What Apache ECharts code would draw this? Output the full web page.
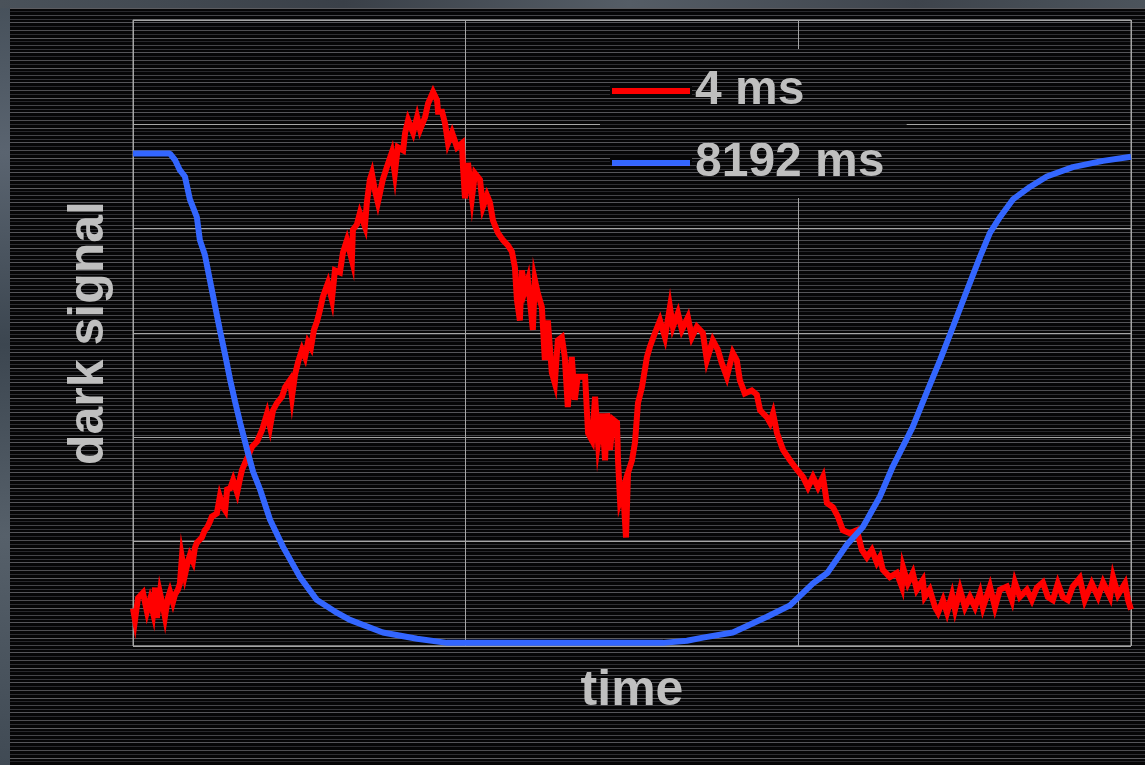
<!DOCTYPE html>
<html>
<head>
<meta charset="utf-8">
<title>dark signal vs time</title>
<script src="https://cdn.jsdelivr.net/npm/echarts@6/dist/echarts.min.js"></script>
<style>
  html, body { margin: 0; padding: 0; background: #060607; }
  #wrap { position: relative; width: 1145px; height: 765px; overflow: hidden; background-color: #060607; }
  #edgeLeft { position: absolute; left: 0; top: 0; width: 10px; height: 765px;
    background: linear-gradient(180deg, #46505a 0%, #5a6470 20%, #3c4650 45%, #56606a 70%, #404a54 100%); }
  #edgeTop { position: absolute; left: 0; top: 0; width: 1145px; height: 8px;
    background: linear-gradient(90deg, #4a525a 0%, #3a4048 30%, #555d66 55%, #3e444c 80%, #4c545c 100%); }
  #chart { position: absolute; left: 0; top: 0; width: 1145px; height: 765px; }
  /* scan lines laid over the legend box (the box itself is opaque so the grid stays hidden) */
  #legendLines { position: absolute; left: 595px; top: 45px; width: 330px; height: 155px;
    pointer-events: none; mix-blend-mode: lighten; background-position: -595px -45px;
    clip-path: path(evenodd, "M0 0 H330 V155 H0 Z M15 40 H97 V50 H15 Z M15 110 H97 V120 H15 Z"); }
</style>
</head>
<body>
<div id="wrap">
  <div id="edgeLeft"></div>
  <div id="edgeTop"></div>
  <div id="chart"></div>
  <div id="legendLines"></div>
</div>
<script>
// Axis ranges (time in arbitrary units, dark signal in arbitrary units)
const timeRange = [0, 300];
const timeStep = 100;
const signalRange = [0, 6];
const signalStep = 1;

const seriesNames = ['4 ms', '8192 ms'];

// 4 ms exposure: noisy dark signal
const redTime = [
  0, 0.6, 1.5, 3.0, 4.2, 5.1, 6.0, 6.6, 7.2, 8.1, 9.0, 9.6, 10.5, 11.1, 12.0, 12.6, 13.5, 14.1, 14.7, 15.6,
  16.5, 17.1, 18.0, 18.6, 19.2, 20.7, 21.6, 22.2, 23.1, 23.7, 25.2, 26.1, 27.1, 27.7, 28.3, 29.2, 30.1, 31.3, 32.2, 32.8,
  34.3, 35.8, 37.3, 38.8, 40.3, 41.2, 42.1, 43.3, 44.8, 45.7, 47.2, 47.8, 48.7, 49.6, 50.8, 51.7, 52.6, 53.5, 54.4, 55.3,
  56.2, 57.1, 58.6, 59.8, 60.7, 62.2, 63.1, 64.3, 65.8, 66.1, 67.3, 68.2, 69.7, 70.3, 71.2, 71.8, 72.7, 73.6, 75.1, 76.3,
  77.8, 78.7, 79.6, 81.2, 81.8, 82.7, 84.2, 85.4, 86.3, 87.8, 88.7, 90.2, 91.4, 91.7, 92.9, 93.8, 94.7, 95.9, 97.4, 98.9,
  99.2, 99.8, 100.7, 101.9, 102.8, 104.3, 105.2, 106.4, 107.3, 108.2, 109.7, 111.2, 112.7, 113.9, 114.8, 115.4, 116.3, 116.9, 117.8, 118.7,
  120.2, 120.8, 121.7, 122.9, 123.8, 124.7, 125.9, 126.8, 127.7, 128.9, 129.8, 130.7, 131.9, 132.8, 133.7, 135.9, 136.8, 138.0, 138.9, 139.8,
  141.0, 141.9, 142.5, 143.4, 144.3, 145.5, 145.8, 146.4, 147.3, 148.2, 148.8, 150.0, 150.9, 151.8, 153.0, 154.5, 155.4, 156.9, 158.4, 159.9,
  161.4, 162.3, 163.8, 165.0, 166.8, 168.0, 169.5, 171.3, 172.5, 174.3, 175.8, 177.0, 178.5, 180.3, 181.5, 182.4, 183.9, 186.0, 187.5, 188.5,
  190.6, 191.5, 192.4, 193.6, 195.4, 197.5, 199.6, 201.4, 202.9, 204.4, 205.9, 207.4, 208.6, 210.4, 211.9, 213.4, 215.5, 217.6, 219.1, 220.6,
  222.1, 223.6, 224.5, 225.4, 227.5, 229.6, 231.1, 231.5, 232.9, 234.4, 235.6, 237.4, 238.0, 239.5, 241.1, 242.0, 243.5, 244.7, 246.2, 247.1,
  248.6, 250.1, 251.6, 253.1, 254.6, 255.5, 257.6, 259.1, 260.6, 262.7, 264.2, 265.1, 266.6, 268.7, 270.2, 271.7, 273.5, 275.0, 276.5, 278.0,
  279.5, 281.0, 282.5, 284.6, 286.1, 288.2, 290.1, 291.6, 293.7, 294.6, 296.1, 298.2, 299.1, 300
];
const redSignal = [
  0.36, 0.25, 0.46, 0.51, 0.33, 0.44, 0.32, 0.56, 0.27, 0.51, 0.38, 0.28, 0.46, 0.52, 0.42, 0.49, 0.54, 0.60, 0.85, 0.68,
  0.81, 0.87, 0.81, 0.94, 0.99, 1.04, 1.11, 1.13, 1.19, 1.24, 1.27, 1.43, 1.33, 1.30, 1.50, 1.51, 1.59, 1.47, 1.61, 1.69,
  1.80, 1.91, 1.96, 2.07, 2.23, 2.10, 2.26, 2.33, 2.39, 2.48, 2.55, 2.39, 2.60, 2.72, 2.84, 2.77, 2.91, 2.86, 3.03, 3.11,
  3.22, 3.35, 3.48, 3.32, 3.60, 3.58, 3.77, 3.89, 3.70, 3.99, 4.04, 4.15, 4.02, 4.25, 4.47, 4.53, 4.37, 4.25, 4.47, 4.59,
  4.73, 4.53, 4.78, 4.75, 4.92, 5.04, 4.92, 5.07, 4.95, 5.07, 5.20, 5.31, 5.23, 5.12, 5.12, 5.01, 4.82, 4.92, 4.78, 4.82,
  4.59, 4.29, 4.63, 4.30, 4.53, 4.47, 4.21, 4.32, 4.25, 4.08, 3.96, 3.89, 3.84, 3.78, 3.63, 3.32, 3.12, 3.60, 3.41, 3.51,
  3.03, 3.51, 3.38, 3.25, 2.74, 3.12, 2.62, 2.52, 2.93, 2.96, 2.77, 2.29, 2.77, 2.36, 2.58, 2.58, 2.04, 1.97, 2.39, 1.95,
  2.23, 1.78, 2.23, 1.88, 2.17, 2.14, 1.78, 1.40, 1.50, 1.04, 1.66, 1.78, 1.95, 2.33, 2.48, 2.77, 2.87, 3.00, 3.12, 2.96,
  3.25, 3.06, 3.19, 3.03, 3.15, 2.96, 3.06, 3.00, 2.74, 2.93, 2.84, 2.71, 2.58, 2.81, 2.74, 2.55, 2.42, 2.45, 2.41, 2.26,
  2.19, 2.14, 2.23, 2.04, 1.88, 1.78, 1.69, 1.62, 1.52, 1.62, 1.52, 1.62, 1.37, 1.33, 1.24, 1.11, 1.08, 1.11, 0.92, 0.85,
  0.92, 0.80, 0.85, 0.73, 0.66, 0.70, 0.57, 0.75, 0.60, 0.70, 0.54, 0.63, 0.47, 0.54, 0.37, 0.32, 0.44, 0.32, 0.49, 0.35,
  0.54, 0.37, 0.47, 0.37, 0.51, 0.37, 0.57, 0.37, 0.54, 0.57, 0.44, 0.61, 0.47, 0.54, 0.44, 0.56, 0.61, 0.47, 0.44, 0.60,
  0.47, 0.44, 0.57, 0.65, 0.44, 0.60, 0.47, 0.61, 0.47, 0.66, 0.49, 0.60, 0.44, 0.35
];

// 8192 ms exposure: smooth dark signal
const blueTime = [
  0, 11.1, 12.6, 14.1, 15.6, 17.1, 19.2, 20.1, 21.6, 23.1, 24.6, 26.1, 27.7, 29.2, 30.7, 32.2, 34.3, 36.1, 38.2, 41.2,
  45.1, 50.2, 55.3, 60.7, 65.2, 75.1, 85.4, 94.4, 159.3, 166.5, 171.3, 180.3, 190.6, 197.5, 204.4, 208.7, 214.6, 219.4, 224.5, 228.4,
  234.4, 238.6, 242.6, 246.5, 250.7, 254.6, 257.6, 260.6, 264.5, 269.6, 274.7, 282.5, 291.6, 300
];
const blueSignal = [
  4.72, 4.72, 4.66, 4.56, 4.50, 4.28, 4.11, 3.89, 3.75, 3.51, 3.27, 3.03, 2.79, 2.55, 2.34, 2.14, 1.88, 1.67, 1.50, 1.21,
  0.95, 0.66, 0.44, 0.33, 0.25, 0.13, 0.07, 0.03, 0.03, 0.05, 0.08, 0.13, 0.28, 0.39, 0.60, 0.70, 0.97, 1.14, 1.43, 1.72,
  2.10, 2.43, 2.74, 3.06, 3.41, 3.73, 3.96, 4.11, 4.28, 4.40, 4.50, 4.59, 4.65, 4.69
];

function pairs(ts, vs) {
  return ts.map((t, i) => [t, vs[i]]);
}

// Scan-line tile for the page backdrop
const tile = document.createElement('canvas');
tile.width = 240;
tile.height = 30;
const tg = tile.getContext('2d');
tg.fillStyle = '#060607';
tg.fillRect(0, 0, tile.width, tile.height);
const lineRows = [0, 4, 8, 11, 15, 19, 22, 26];
const lineShades = [78, 46, 92, 40, 70, 52, 86, 44];
lineRows.forEach((r, i) => {
  const s = lineShades[i];
  tg.fillStyle = 'rgb(' + s + ',' + s + ',' + (s + 4) + ')';
  tg.fillRect(0, r, tile.width, 1);
});
const tileUrl = 'url(' + tile.toDataURL() + ')';
document.getElementById('wrap').style.backgroundImage = tileUrl;
document.getElementById('legendLines').style.backgroundImage = tileUrl;

const textGray = '#bfbfbf';
const gridGray = '#a6a6a6';
const fontFamily = "'Liberation Sans', Arial, Helvetica, sans-serif";

const chart = echarts.init(document.getElementById('chart'), null, { renderer: 'canvas' });
chart.setOption({
  animation: false,
  backgroundColor: 'transparent',
  grid: {
    left: 133, top: 20, width: 998, height: 626,
    show: true, borderColor: gridGray, borderWidth: 1, backgroundColor: 'transparent'
  },
  legend: {
    data: seriesNames,
    orient: 'vertical',
    left: 600, top: 49,
    padding: [18, 22, 11, 12],
    itemGap: 24,
    itemWidth: 78,
    itemHeight: 6,
    icon: 'rect',
    backgroundColor: '#060607',
    textStyle: { color: textGray, fontSize: 48, fontWeight: 'bold', fontFamily: fontFamily, lineHeight: 46 }
  },
  xAxis: {
    type: 'value',
    min: timeRange[0], max: timeRange[1], interval: timeStep,
    name: 'time', nameLocation: 'middle', nameGap: 20,
    nameTextStyle: { color: textGray, fontSize: 50, fontWeight: 'bold', fontFamily: fontFamily },
    axisLine: { show: false }, axisTick: { show: false }, axisLabel: { show: false },
    splitLine: { show: true, lineStyle: { color: gridGray, width: 1 } }
  },
  yAxis: {
    type: 'value',
    min: signalRange[0], max: signalRange[1], interval: signalStep,
    name: 'dark signal', nameLocation: 'middle', nameRotate: 90, nameGap: 19,
    nameTextStyle: { color: textGray, fontSize: 50, fontWeight: 'bold', fontFamily: fontFamily },
    axisLine: { show: false }, axisTick: { show: false }, axisLabel: { show: false },
    splitLine: { show: true, lineStyle: { color: gridGray, width: 1 } }
  },
  series: [
    {
      name: seriesNames[0], type: 'line', data: pairs(redTime, redSignal),
      symbol: 'none', showSymbol: false, color: '#ff0000',
      lineStyle: { color: '#ff0000', width: 6, join: 'miter' }
    },
    {
      name: seriesNames[1], type: 'line', data: pairs(blueTime, blueSignal),
      symbol: 'none', showSymbol: false, color: '#3366ff',
      lineStyle: { color: '#3366ff', width: 6 }
    }
  ]
});
</script>
</body>
</html>
